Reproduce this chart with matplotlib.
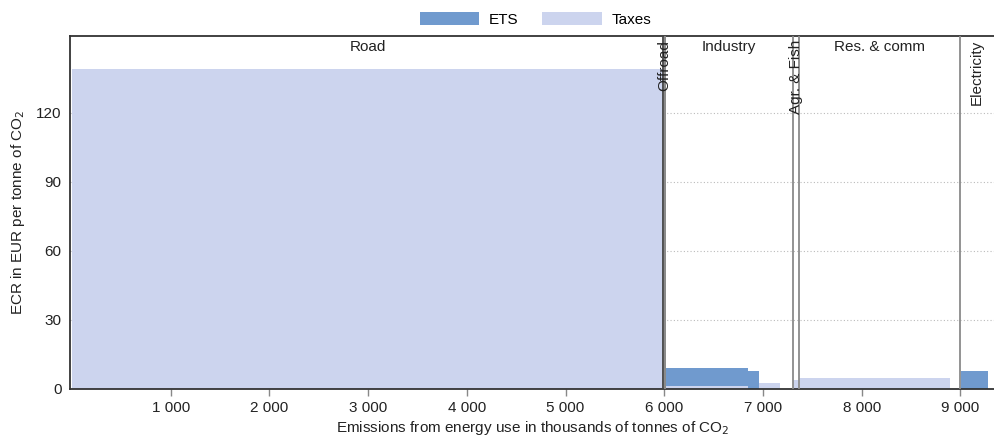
import matplotlib
matplotlib.use("Agg")
import matplotlib.pyplot as plt
from matplotlib.ticker import FuncFormatter

plt.rcParams['font.family'] = ['Liberation Sans', 'DejaVu Sans']

# Sectors (cumulative emissions boundaries, thousand tonnes CO2)
sector_names = ["Road", "Offroad", "Industry", "Agr. & Fish", "Res. & comm", "Electricity"]
sector_start = [0, 5990, 6010, 7302, 7369, 8997]
sector_end = [5990, 6010, 7302, 7369, 8997, 9331]
sector_rotated = [False, True, False, True, False, True]

# Bars (emission blocks)
bar_start = [0, 6010, 6849, 6960, 7302, 7369, 9004]
bar_end = [5990, 6849, 6960, 7173, 7369, 8896, 9278]
taxes = [138.9, 1.3, 0.0, 2.4, 3.7, 4.6, 0.0]
ets = [0.0, 7.6, 7.6, 0.0, 0.0, 0.0, 7.6]

xticks = [1000, 2000, 3000, 4000, 5000, 6000, 7000, 8000, 9000]
yticks = [0, 30, 60, 90, 120]

c_ets = "#709ace"
c_tax = "#ccd4ee"

fig = plt.figure(figsize=(9.95, 4.41), dpi=100)
ax = fig.add_axes([70/995, 1 - 388.5/441, 925/995, (388.5 - 36)/441])

widths = [e - s for s, e in zip(bar_start, bar_end)]
ax.bar(bar_start, taxes, width=widths, align='edge', color=c_tax, label="Taxes", zorder=2, linewidth=0)
ax.bar(bar_start, ets, width=widths, bottom=taxes, align='edge', color=c_ets, label="ETS", zorder=2, linewidth=0)

ax.set_xlim(-20, 9350)
ax.set_ylim(0, 153.3)

# Sector boundaries
for i, s in enumerate(sector_start[1:]):
    col = "#444444" if i == 0 else "#8a8a8a"
    ax.axvline(s, color=col, lw=1.3, zorder=3)
ax.axvline(sector_end[1], color="#8a8a8a", lw=1.3, zorder=3)

for name, s, e, rot in zip(sector_names, sector_start, sector_end, sector_rotated):
    mid = (s + e) / 2
    if rot:
        ax.text(mid, 151.5, name, rotation=90, ha='center', va='top', fontsize=11, color='#222222', zorder=4)
    else:
        ax.text(mid, 151.5, name, ha='center', va='top', fontsize=11, color='#222222', zorder=4)

ax.set_xticks(xticks)
ax.xaxis.set_major_formatter(FuncFormatter(lambda v, p: f"{int(v):,}".replace(",", " ")))
ax.set_yticks(yticks)
ax.tick_params(axis='y', length=0, labelsize=11, pad=6, colors='#222222')
ax.tick_params(axis='x', length=5, width=1, color='#888888', labelsize=11, pad=4, labelcolor='#222222')
ax.yaxis.grid(True, linestyle=(0, (1, 2)), color='#bbbbbb', lw=0.8, zorder=0)
ax.set_axisbelow(True)

for sp in ['left', 'top', 'bottom']:
    ax.spines[sp].set_color('#333333')
    ax.spines[sp].set_linewidth(1.3)
ax.spines['right'].set_visible(False)

ax.set_xlabel("Emissions from energy use in thousands of tonnes of CO$_2$", fontsize=11, color='#222222', labelpad=3)
ax.set_ylabel("ECR in EUR per tonne of CO$_2$", fontsize=11, color='#222222')
ax.yaxis.set_label_coords(-0.046, 0.5)

h, l = ax.get_legend_handles_labels()
fig.legend(h[::-1], l[::-1], loc='upper center', bbox_to_anchor=(0.538, 1.005), ncol=2, frameon=False,
           fontsize=11, handlelength=3.9, handleheight=1.0, columnspacing=1.6, handletextpad=0.6)

fig.savefig("out.png", dpi=100)
